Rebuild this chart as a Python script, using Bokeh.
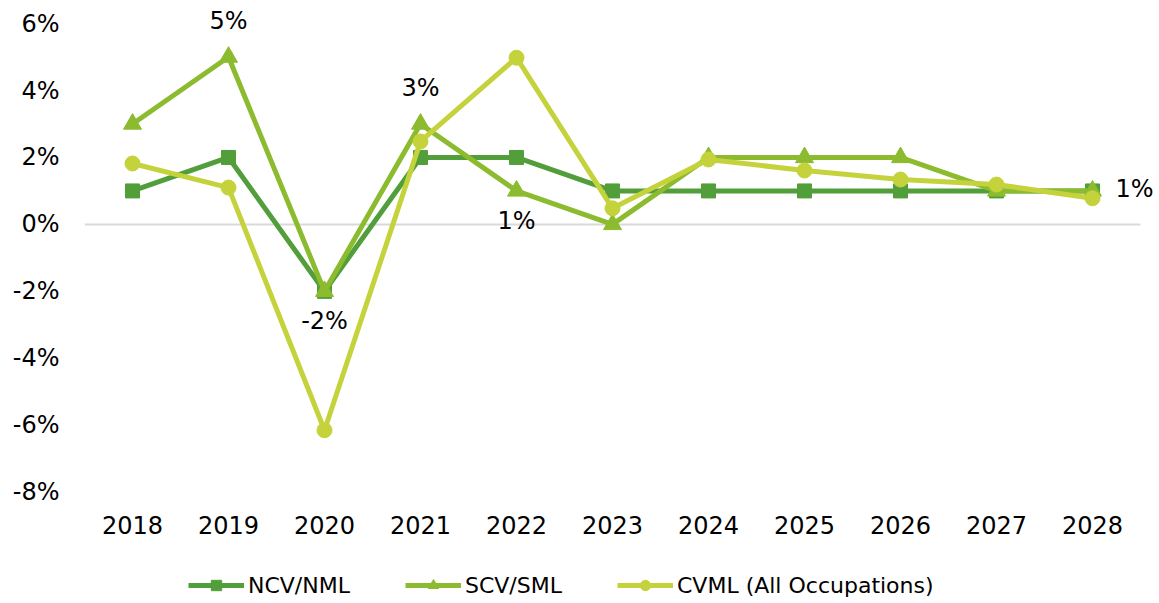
from bokeh.plotting import figure
from bokeh.models import (ColumnDataSource, FixedTicker, PrintfTickFormatter,
                          Legend, LegendItem, LabelSet, Range1d)
from bokeh.core.properties import value
from bokeh.embed import file_html
from bokeh.resources import INLINE

# ---- data ----
years = ["2018", "2019", "2020", "2021", "2022", "2023", "2024", "2025", "2026", "2027", "2028"]
ncv_nml = [1, 2, -2, 2, 2, 1, 1, 1, 1, 1, 1]
scv_sml = [3, 5, -2, 3, 1, 0, 2, 2, 2, 1, 1]
cvml_all = [1.82, 1.10, -6.15, 2.48, 4.98, 0.48, 1.94, 1.61, 1.34, 1.19, 0.78]
y_ticks = [-8, -6, -4, -2, 0, 2, 4, 6]
series_names = ["NCV/NML", "SCV/SML", "CVML (All Occupations)"]
# data labels shown on SCV/SML series
labels_above = ["2019", "2021"]
labels_below = ["2020", "2022"]
labels_right = ["2028"]

FONT = "DejaVu Sans"
C_NCV = "#529E3A"
C_SCV = "#8CBB2F"
C_CVML = "#C4D33B"

xs = list(range(len(years)))
W, H = 1159, 603
PX_X = 96.0          # pixels per category
PX_Y = 33.47         # pixels per percentage point
TOP = 5
y_top = 6.54
p = figure(width=W, height=H,
           x_range=Range1d(-0.5, -0.5 + (W - 84) / PX_X),
           y_range=Range1d(y_top - (H - TOP) / PX_Y, y_top),
           output_backend="svg", toolbar_location=None,
           min_border_left=84, min_border_right=0, min_border_top=TOP, min_border_bottom=0)
p.outline_line_color = None
p.xgrid.visible = False
p.ygrid.visible = False
p.xaxis.visible = False

ax = p.yaxis[0]
ax.axis_line_color = None
ax.major_tick_line_color = None
ax.minor_tick_line_color = None
ax.major_label_text_font = FONT
ax.major_label_text_font_size = "24px"
ax.major_label_text_color = "#000000"
ax.major_label_standoff = 19
ax.ticker = FixedTicker(ticks=y_ticks)
ax.formatter = PrintfTickFormatter(format="%d%%")

# zero baseline across the category band
p.segment(x0=[xs[0] - 0.5], x1=[xs[-1] + 0.5], y0=[0], y1=[0],
          line_color="#D9D9D9", line_width=2, level="underlay")

# category (year) labels under the lowest tick
cat_src = ColumnDataSource(dict(x=xs, y=[y_ticks[0]] * len(xs), t=years))
p.add_layout(LabelSet(x="x", y="y", text="t", source=cat_src, y_offset=-33,
                      text_align="center", text_baseline="middle",
                      text_font=value(FONT), text_font_size=value("24px"), text_color="#000000"))

src = ColumnDataSource(dict(x=xs, ncv=ncv_nml, scv=scv_sml, cvml=cvml_all))

l1 = p.line("x", "ncv", source=src, line_color=C_NCV, line_width=5)
m1 = p.scatter("x", "ncv", source=src, marker="square", size=14, fill_color=C_NCV, line_color=C_NCV)
l2 = p.line("x", "scv", source=src, line_color=C_SCV, line_width=5)
m2 = p.scatter("x", "scv", source=src, marker="triangle", size=18, fill_color=C_SCV, line_color=C_SCV)
l3 = p.line("x", "cvml", source=src, line_color=C_CVML, line_width=5)
m3 = p.scatter("x", "cvml", source=src, marker="circle", size=15, fill_color=C_CVML, line_color=C_CVML)


def label_source(sel):
    idx = [years.index(y) for y in sel]
    vs = [scv_sml[i] for i in idx]
    return ColumnDataSource(dict(x=idx, y=vs, t=[f"{v:g}%" for v in vs]))


for sel, xo, yo, align in ((labels_above, 0, 36, "center"),
                           (labels_below, 0, -30, "center"),
                           (labels_right, 23, 2, "left")):
    p.add_layout(LabelSet(x="x", y="y", text="t", source=label_source(sel),
                          x_offset=xo, y_offset=yo, text_align=align, text_baseline="middle",
                          text_font=value(FONT), text_font_size=value("24px"), text_color="#000000"))

legend = Legend(items=[LegendItem(label=series_names[0], renderers=[l1, m1]),
                       LegendItem(label=series_names[1], renderers=[l2, m2]),
                       LegendItem(label=series_names[2], renderers=[l3, m3])],
                location=(104, 5), orientation="horizontal",
                border_line_color=None, background_fill_alpha=0,
                padding=0, margin=0, spacing=55, glyph_width=56, glyph_height=26,
                label_standoff=4, label_text_font=FONT, label_text_font_size="22px",
                label_text_color="#000000")
p.add_layout(legend)

open("out.html", "w").write(file_html(p, INLINE))
